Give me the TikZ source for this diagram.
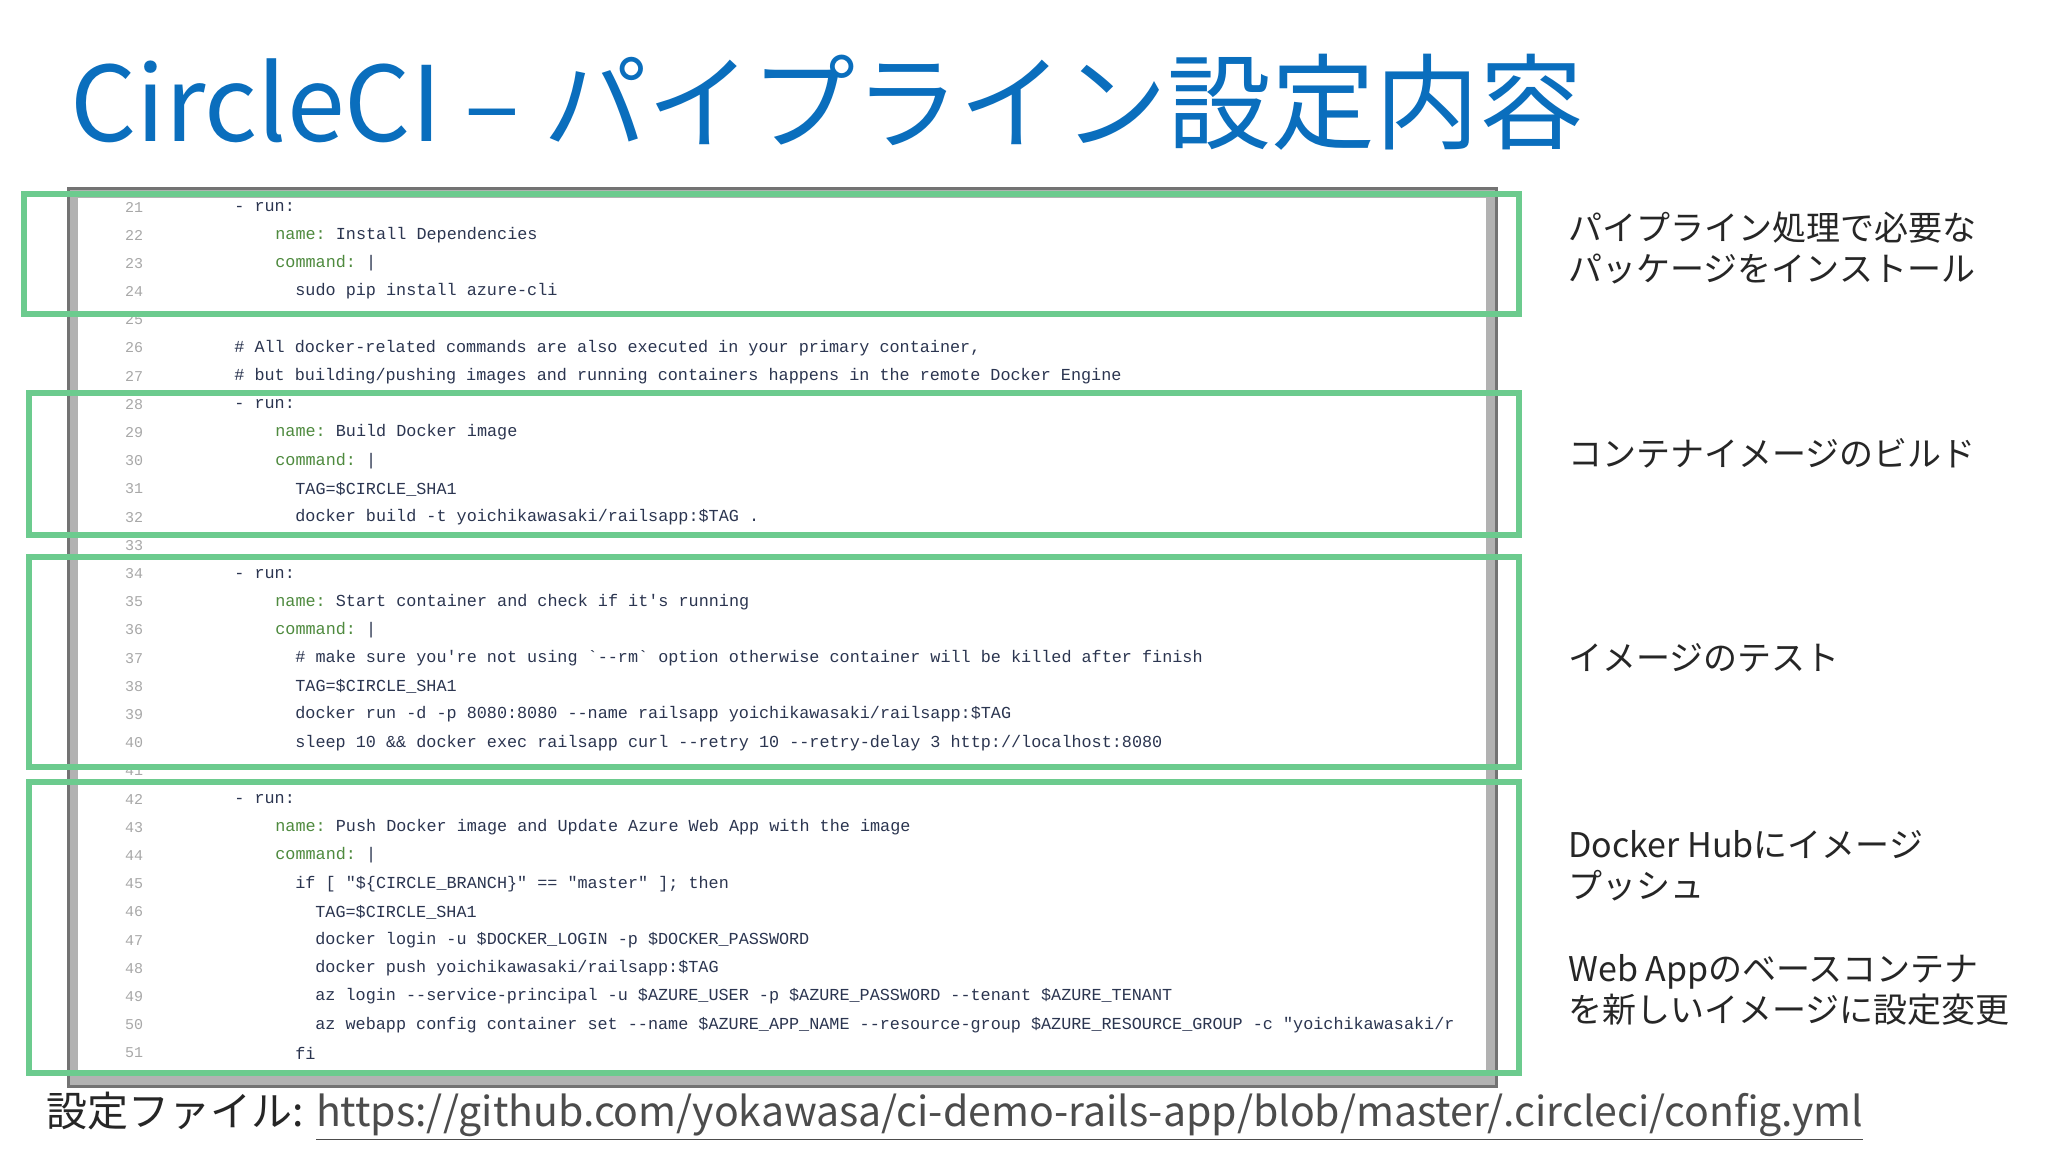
\documentclass[tikz,border=0pt]{standalone}
\usepackage{fontspec}
\setmainfont{Noto Sans CJK JP}
\setmonofont{Liberation Mono}
\definecolor{ttl}{HTML}{0A6EBD}
\definecolor{grn}{HTML}{6CCB8E}
\definecolor{codec}{HTML}{2B3550}
\definecolor{keyc}{HTML}{4E8A3E}
\definecolor{numc}{HTML}{A8A8A8}
\begin{document}
\begin{tikzpicture}[x=0.5pt,y=-0.5pt,
  codeline/.style={anchor=west,inner sep=0,font=\ttfamily\fontsize{8.4}{9}\selectfont,text=codec},
  numline/.style={anchor=center,inner sep=0,font=\ttfamily\fontsize{7.5}{9}\selectfont,text=numc},
  gbox/.style={draw=grn,line width=2.6pt},
  note/.style={anchor=west,inner sep=0,font=\fontsize{17}{20.5}\selectfont,text=black!85,align=left}]
\useasboundingbox (0,0) rectangle (2048,1152);
\fill[white] (0,0) rectangle (2048,1152);
\node[anchor=west,inner sep=0,text=ttl,font=\fontsize{52}{58}\selectfont] (title) at (70,102) {CircleCI – パイプライン設定内容};
% code panel
\node[draw=black!30,line width=5pt,fill=white,minimum width=1418*0.5pt,minimum height=888*0.5pt,anchor=north west,inner sep=0] (panel) at (68,188) {};
\draw[black!55,line width=1.5pt] (panel.north west) rectangle (panel.south east);
\newcommand{\kk}[1]{\textcolor{keyc}{#1}}
\foreach \n/\ind/\t [count=\i from 0] in {
21/234/{- run:},
22/275/{\kk{name:} Install Dependencies},
23/275/{\kk{command:} |},
24/295/{sudo pip install azure-cli},
25/0/{},
26/234/{\# All docker-related commands are also executed in your primary container,},
27/234/{\# but building/pushing images and running containers happens in the remote Docker Engine},
28/234/{- run:},
29/275/{\kk{name:} Build Docker image},
30/275/{\kk{command:} |},
31/295/{TAG=\$CIRCLE\_SHA1},
32/295/{docker build -t yoichikawasaki/railsapp:\$TAG .},
33/0/{},
34/234/{- run:},
35/275/{\kk{name:} Start container and check if it's running},
36/275/{\kk{command:} |},
37/295/{\# make sure you're not using \textasciigrave--rm\textasciigrave\ option otherwise container will be killed after finish},
38/295/{TAG=\$CIRCLE\_SHA1},
39/295/{docker run -d -p 8080:8080 --name railsapp yoichikawasaki/railsapp:\$TAG},
40/295/{sleep 10 \&\& docker exec railsapp curl --retry 10 --retry-delay 3 http://localhost:8080},
41/0/{},
42/234/{- run:},
43/275/{\kk{name:} Push Docker image and Update Azure Web App with the image},
44/275/{\kk{command:} |},
45/295/{if [ "\$\{CIRCLE\_BRANCH\}" == "master" ]; then},
46/315/{TAG=\$CIRCLE\_SHA1},
47/315/{docker login -u \$DOCKER\_LOGIN -p \$DOCKER\_PASSWORD},
48/315/{docker push yoichikawasaki/railsapp:\$TAG},
49/315/{az login --service-principal -u \$AZURE\_USER -p \$AZURE\_PASSWORD --tenant \$AZURE\_TENANT},
50/315/{az webapp config container set --name \$AZURE\_APP\_NAME --resource-group \$AZURE\_RESOURCE\_GROUP -c "yoichikawasaki/r},
51/295/{fi}}{
  \node[numline] (n\n) at (134,{207+28.2*\i}) {\n};
  \ifnum\ind>0 \node[codeline] (c\n) at (\ind,{207+28.2*\i}) {\t};\fi
}
% green boxes
\draw[gbox] (24,194) rectangle (1519,314);
\draw[gbox] (29,393) rectangle (1519,535);
\draw[gbox] (29,557) rectangle (1519,767);
\draw[gbox] (29,782) rectangle (1519,1073);
% notes
\node[note] (t1) at (1568,248) {パイプライン処理で必要な\\パッケージをインストール};
\node[note] (t2) at (1568,453) {コンテナイメージのビルド};
\node[note] (t3) at (1568,658) {イメージのテスト};
\node[note] (t4) at (1568,866) {Docker Hubにイメージ\\プッシュ};
\node[note] (t5) at (1568,990) {Web Appのベースコンテナ\\を新しいイメージに設定変更};
% footer
\node[anchor=west,inner sep=0,font=\fontsize{20.5}{24}\selectfont,text=black!85] (foot) at (46,1116) {設定ファイル: \textcolor{black!70}{\underline{https://github.com/yokawasa/ci-demo-rails-app/blob/master/.circleci/config.yml}}};
\end{tikzpicture}
\end{document}
